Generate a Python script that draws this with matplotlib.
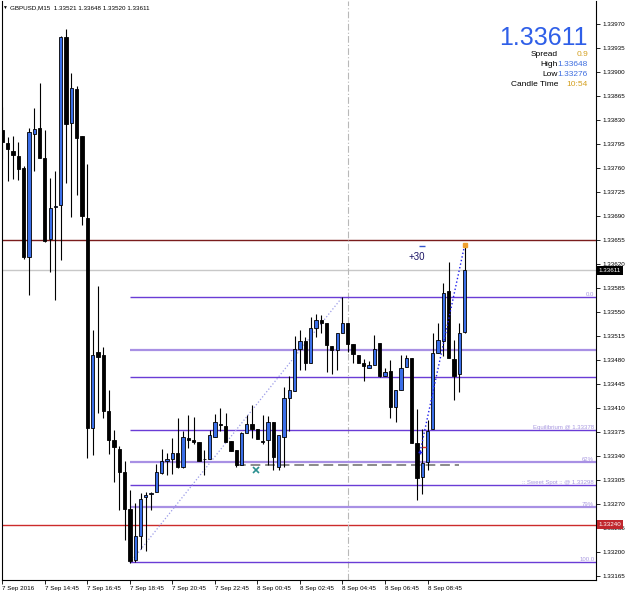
import matplotlib
matplotlib.use('Agg')
import matplotlib.pyplot as plt

plt.rcParams['font.family'] = ['Liberation Sans', 'DejaVu Sans']

# GBPUSD M15, 7 Sep 12:45 .. 8 Sep 10:30
opens = [1.33815, 1.33797, 1.33785, 1.33778, 1.33760, 1.33630, 1.33810, 1.33818, 1.33775, 1.33657,
         1.33703, 1.33706, 1.33951, 1.33825, 1.33875, 1.33806, 1.33687, 1.33381, 1.33492, 1.33487,
         1.33406, 1.33364, 1.33350, 1.33316, 1.33263, 1.33189, 1.33224, 1.33280, 1.33284, 1.33287,
         1.33315, 1.33332, 1.33335, 1.33345, 1.33324, 1.33366, 1.33364, 1.33360, 1.33336, 1.33336,
         1.33367, 1.33387, 1.33384, 1.33362, 1.33349, 1.33327, 1.33374, 1.33387, 1.33379, 1.33361,
         1.33363, 1.33390, 1.33324, 1.33368, 1.33424, 1.33435, 1.33496, 1.33508, 1.33476, 1.33527,
         1.33539, 1.33534, 1.33501, 1.33495, 1.33519, 1.33534, 1.33504, 1.33487, 1.33476, 1.33469,
         1.33473, 1.33505, 1.33457, 1.33464, 1.33412, 1.33436, 1.33470, 1.33483, 1.33359, 1.33309,
         1.33331, 1.33379, 1.33490, 1.33508, 1.33580, 1.33481, 1.33460, 1.33521]
highs = [1.33849, 1.33805, 1.33806, 1.33798, 1.33763, 1.33818, 1.33847, 1.33884, 1.33816, 1.33746,
         1.33756, 1.33952, 1.33962, 1.33898, 1.33880, 1.33806, 1.33766, 1.33524, 1.33588, 1.33499,
         1.33436, 1.33378, 1.33354, 1.33332, 1.33290, 1.33272, 1.33286, 1.33287, 1.33287, 1.33329,
         1.33350, 1.33344, 1.33366, 1.33395, 1.33376, 1.33400, 1.33397, 1.33361, 1.33349, 1.33378,
         1.33401, 1.33410, 1.33402, 1.33362, 1.33349, 1.33375, 1.33400, 1.33414, 1.33379, 1.33400,
         1.33399, 1.33390, 1.33370, 1.33441, 1.33456, 1.33515, 1.33524, 1.33514, 1.33543, 1.33547,
         1.33546, 1.33534, 1.33501, 1.33520, 1.33572, 1.33534, 1.33504, 1.33487, 1.33481, 1.33479,
         1.33517, 1.33505, 1.33469, 1.33480, 1.33436, 1.33487, 1.33487, 1.33483, 1.33408, 1.33379,
         1.33393, 1.33519, 1.33534, 1.33592, 1.33623, 1.33509, 1.33534, 1.33648]
lows = [1.33773, 1.33741, 1.33744, 1.33742, 1.33627, 1.33575, 1.33755, 1.33775, 1.33652, 1.33609,
        1.33568, 1.33626, 1.33738, 1.33688, 1.33721, 1.33677, 1.33337, 1.33342, 1.33402, 1.33395,
        1.33343, 1.33302, 1.33261, 1.33218, 1.33184, 1.33186, 1.33205, 1.33201, 1.33262, 1.33287,
        1.33314, 1.33312, 1.33314, 1.33323, 1.33323, 1.33351, 1.33357, 1.33332, 1.33312, 1.33335,
        1.33367, 1.33376, 1.33360, 1.33347, 1.33324, 1.33327, 1.33374, 1.33366, 1.33365, 1.33358,
        1.33327, 1.33319, 1.33319, 1.33324, 1.33377, 1.33435, 1.33465, 1.33465, 1.33476, 1.33514,
        1.33519, 1.33462, 1.33460, 1.33465, 1.33519, 1.33491, 1.33475, 1.33476, 1.33450, 1.33468,
        1.33473, 1.33455, 1.33456, 1.33395, 1.33390, 1.33436, 1.33470, 1.33359, 1.33276, 1.33285,
        1.33320, 1.33379, 1.33490, 1.33486, 1.33483, 1.33421, 1.33433, 1.33520]
closes = [1.33798, 1.33787, 1.33779, 1.33758, 1.33630, 1.33813, 1.33817, 1.33775, 1.33654, 1.33702,
          1.33705, 1.33951, 1.33824, 1.33876, 1.33804, 1.33690, 1.33381, 1.33487, 1.33485, 1.33405,
          1.33364, 1.33353, 1.33316, 1.33263, 1.33187, 1.33224, 1.33278, 1.33283, 1.33286, 1.33316,
          1.33333, 1.33335, 1.33344, 1.33324, 1.33367, 1.33364, 1.33360, 1.33333, 1.33335, 1.33370,
          1.33389, 1.33385, 1.33360, 1.33347, 1.33327, 1.33373, 1.33387, 1.33379, 1.33365, 1.33360,
          1.33390, 1.33338, 1.33370, 1.33424, 1.33436, 1.33496, 1.33508, 1.33476, 1.33527, 1.33539,
          1.33534, 1.33502, 1.33494, 1.33520, 1.33534, 1.33504, 1.33489, 1.33476, 1.33471, 1.33473,
          1.33496, 1.33457, 1.33462, 1.33411, 1.33436, 1.33469, 1.33483, 1.33359, 1.33308, 1.33330,
          1.33376, 1.33490, 1.33509, 1.33578, 1.33483, 1.33457, 1.33520, 1.33611]

time_ticks = [0, 8, 16, 24, 32, 40, 48, 56, 64, 72, 80]
time_labels = ['7 Sep 2016', '7 Sep 14:45', '7 Sep 16:45', '7 Sep 18:45', '7 Sep 20:45',
               '7 Sep 22:45', '8 Sep 00:45', '8 Sep 02:45', '8 Sep 04:45', '8 Sep 06:45',
               '8 Sep 08:45']
price_ticks = [1.33165, 1.33200, 1.33235, 1.33270, 1.33305, 1.33340, 1.33375, 1.33410,
               1.33445, 1.33480, 1.33515, 1.33550, 1.33585, 1.33620, 1.33655, 1.33690,
               1.33725, 1.33760, 1.33795, 1.33830, 1.33865, 1.33900, 1.33935, 1.33970]

# fibonacci drawn from the 18:45 low to the 04:45 high
fib_start, fib_end = 24, 64
fib_low, fib_high = 1.33184, 1.33572
fib_prices = [1.33572, 1.33494, 1.33455, 1.33378, 1.33331, 1.33298, 1.33266, 1.33185]
fib_light = [False, True, False, False, True, False, True, False]
fib_labels = {1.33572: '0.0', 1.33378: 'Equilibrium @ 1.33378', 1.33331: '62%',
              1.33298: ':: Sweet Spot :: @ 1.33298', 1.33266: '79%', 1.33185: '100.0'}

bid = 1.33611
resist = 1.33655
support = 1.33240
zone_price = 1.33327

W, H = 625, 594
fig = plt.figure(figsize=(W / 100, H / 100), dpi=100)
ax = fig.add_axes([2 / W, 14 / H, 594 / W, 579 / H])
ax.set_xlim(-0.06, 111.7)
ax.set_ylim(1.331592, 1.340035)

# horizontal lines
ax.axhline(resist, color='#7a1c1c', lw=1.0, zorder=1)
ax.axhline(bid, color='#c8c8c8', lw=1.0, zorder=1)
ax.axhline(support, color='#cc2b2b', lw=1.0, zorder=1)
ax.axvline(65, color='#b8b8b8', lw=0.8, ls=(0, (6, 2, 1, 2)), zorder=1)

for p, light in zip(fib_prices, fib_light):
    if light:
        ax.hlines(p, fib_start, 111.7, colors='#a890e4', lw=1.6, zorder=1)
    else:
        ax.hlines(p, fib_start, 111.7, colors='#6a3cd6', lw=1.0, zorder=1)
    if p in fib_labels:
        ax.text(0.997, p, fib_labels[p], transform=ax.get_yaxis_transform(), ha='right',
                va='bottom', fontsize=4.3, color='#a898e0', zorder=5)

ax.plot([fib_start, fib_end], [fib_low, fib_high], ls=':', color='#9b9be8', lw=0.9, zorder=1)
ax.hlines(zone_price, 44, 86, colors='#8a8a8a', lw=1.4, linestyles=(0, (5, 2.5)), zorder=2)

# candles
idx = list(range(len(opens)))
ax.vlines(idx, lows, highs, colors='black', lw=0.8, zorder=3)
bottoms = [min(o, c) for o, c in zip(opens, closes)]
heights = [max(abs(c - o), 0.000012) for o, c in zip(opens, closes)]
fills = ['#3a6ee8' if c >= o else 'black' for o, c in zip(opens, closes)]
ax.bar(idx, heights, bottom=bottoms, width=0.62, color=fills, edgecolor='black',
       linewidth=0.6, zorder=4)

# objects on the chart
ax.plot(47.7, 1.33320, marker='x', ms=4, mew=1.2, color='#2a9090', zorder=5)
ax.plot([78.6, 87], [1.33346, 1.33648], ls=':', color='#2020ee', lw=1.0, zorder=5)
ax.plot(78.6, 1.33346, marker='+', ms=3.5, mew=1, color='#2020ee', zorder=6)
ax.plot(79.3, 1.33353, marker='_', ms=3.5, mew=1, color='#e03030', zorder=6)
ax.plot(87, 1.33648, marker='s', ms=2.5, color='#f0a030', mec='#f0a030', zorder=6)
ax.text(77.9, 1.33630, '+30', fontsize=7, color='#1b1464', ha='center', va='center', zorder=6)
ax.plot(79.0, 1.33646, marker='_', ms=4, mew=1, color='#3355cc', zorder=6)

# axes style
for s in ['left', 'bottom', 'right']:
    ax.spines[s].set_linewidth(0.8)
ax.spines['top'].set_visible(False)
ax.yaxis.tick_right()
ax.set_yticks(price_ticks)
ax.set_yticklabels(['%.5f' % p for p in price_ticks])
ax.set_xticks(time_ticks)
ax.set_xticklabels(time_labels)
for lbl in ax.get_xticklabels():
    lbl.set_ha('left')
ax.tick_params(axis='y', direction='out', length=3, width=0.6, labelsize=4.5, pad=1.5)
ax.tick_params(axis='x', direction='out', length=3, width=0.6, labelsize=4.5, pad=1)

# price boxes on the axis
ax.text(1.004, bid, '%.5f' % bid, transform=ax.get_yaxis_transform(), color='white',
        fontsize=4.5, ha='left', va='center',
        bbox=dict(boxstyle='square,pad=0.3', fc='black', ec='none'), zorder=10)
ax.text(1.004, support, '%.5f' % support, transform=ax.get_yaxis_transform(), color='white',
        fontsize=4.5, ha='left', va='center',
        bbox=dict(boxstyle='square,pad=0.3', fc='#c0272d', ec='none'), zorder=10)

# header
fig.text(2 / W, 1 - 9 / H, '\u25bc', fontsize=3.5, color='black')
fig.text(10 / W, 1 - 9 / H, 'GBPUSD,M15  1.33521 1.33648 1.33520 1.33611', fontsize=4.5,
         color='black')

# info panel
fig.text(588 / W, 1 - 45 / H, '%.5f' % bid, fontsize=18, color='#2f5fe8', ha='right')
info_rows = [('Spread', '0.9', '#d4a020'), ('High', '1.33648', '#3f6fe0'),
             ('Low', '1.33276', '#3f6fe0'), ('Candle Time', '10:54', '#d4a020')]
for k, (name, val, col) in enumerate(info_rows):
    yb = 1 - (55.7 + 10 * k) / H
    fig.text(558 / W, yb, name, fontsize=6, color='black', ha='right')
    fig.text(588 / W, yb, val, fontsize=6, color=col, ha='right')

fig.savefig('out.png', dpi=100)
